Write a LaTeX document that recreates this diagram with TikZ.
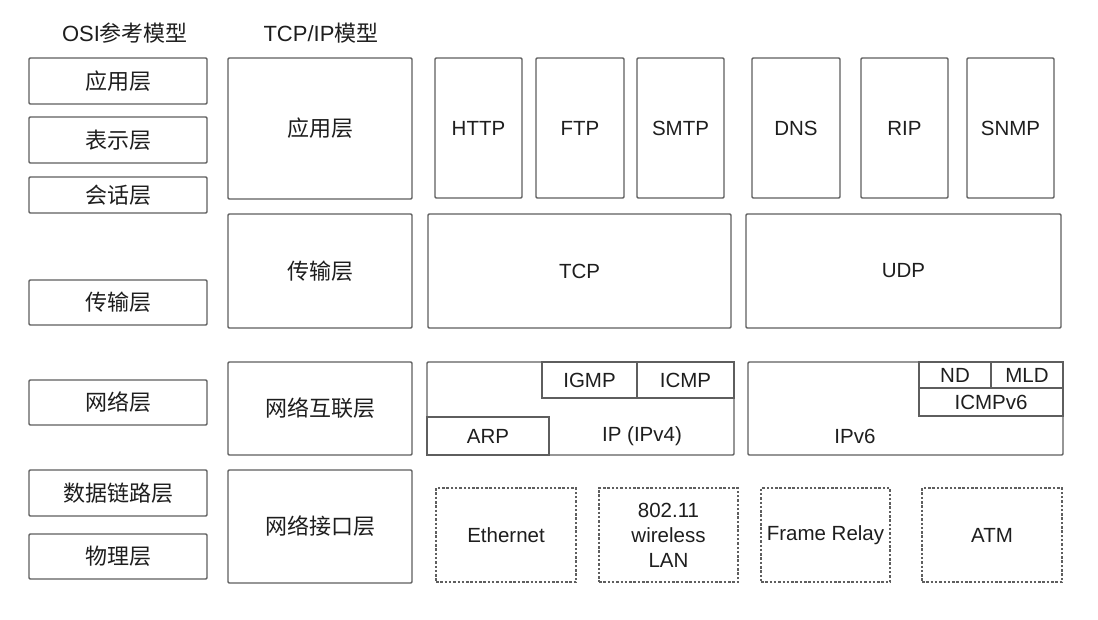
\documentclass[tikz,border=0pt]{standalone}
\usepackage{fontspec}
\setmainfont{Liberation Sans}
\newfontfamily\cjk{Noto Sans CJK SC}
\definecolor{linec}{HTML}{5E5E5E}
\definecolor{txt}{HTML}{1E1E1E}
\begin{document}
\begin{tikzpicture}[x=1pt,y=-1pt,
  box/.style={draw=linec, line width=1.4pt, rounded corners=1.2pt, inner sep=0pt, text=txt,
    font=\fontsize{20.5}{25}\selectfont, align=center},
  cbox/.style={box, font=\cjk\fontsize{22}{26}\selectfont},
  dbox/.style={box, dash pattern=on 2.5pt off 1.8pt, line width=1.2pt, rounded corners=0pt},
  lbl/.style={inner sep=0pt, text=txt, font=\fontsize{20.5}{25}\selectfont},
  hdr/.style={inner sep=0pt, text=txt, font=\fontsize{22}{26}\selectfont}]
\useasboundingbox (0,0) rectangle (1098,620);
\fill[white] (0,0) rectangle (1098,620);
% headers
\node[hdr] (hosi) at (125,33) {OSI{\cjk 参考模型}};
\node[hdr] (htcp) at (321,33) {TCP/IP{\cjk 模型}};
% OSI column
\node[cbox, minimum width=178, minimum height=46] (o7) at (118,81) {应用层};
\node[cbox, minimum width=178, minimum height=46] (o6) at (118,140) {表示层};
\node[cbox, minimum width=178, minimum height=36] (o5) at (118,195) {会话层};
\node[cbox, minimum width=178, minimum height=45] (o4) at (118,302.5) {传输层};
\node[cbox, minimum width=178, minimum height=45] (o3) at (118,402.5) {网络层};
\node[cbox, minimum width=178, minimum height=46] (o2) at (118,493) {数据链路层};
\node[cbox, minimum width=178, minimum height=45] (o1) at (118,556.5) {物理层};
% TCP/IP column
\node[cbox, minimum width=184, minimum height=141] (t4) at (320,128.5) {应用层};
\node[cbox, minimum width=184, minimum height=114] (t3) at (320,271) {传输层};
\node[cbox, minimum width=184, minimum height=93] (t2) at (320,408.5) {网络互联层};
\node[cbox, minimum width=184, minimum height=113] (t1) at (320,526.5) {网络接口层};
% application protocols
\node[box, minimum width=87, minimum height=140] (http) at (478.5,128) {HTTP};
\node[box, minimum width=88, minimum height=140] (ftp) at (580,128) {FTP};
\node[box, minimum width=87, minimum height=140] (smtp) at (680.5,128) {SMTP};
\node[box, minimum width=88, minimum height=140] (dns) at (796,128) {DNS};
\node[box, minimum width=87, minimum height=140] (rip) at (904.5,128) {RIP};
\node[box, minimum width=87, minimum height=140] (snmp) at (1010.5,128) {SNMP};
% transport
\node[box, minimum width=303, minimum height=114] (tcp) at (579.5,271) {TCP};
\node[box, minimum width=315, minimum height=114] (udp) at (903.5,271) {UDP};
% IPv4
\node[box, minimum width=307, minimum height=93] (ip4) at (580.5,408.5) {};
\node[lbl] (ip4l) at (642,436) {IP (IPv4)};
\node[box, rounded corners=0pt, minimum width=95, minimum height=36] (igmp) at (589.5,380) {IGMP};
\node[box, rounded corners=0pt, minimum width=97, minimum height=36] (icmp) at (685.5,380) {ICMP};
\node[box, rounded corners=0pt, minimum width=122, minimum height=38] (arp) at (488,436) {ARP};
% IPv6
\node[box, minimum width=315, minimum height=93] (ip6) at (905.5,408.5) {};
\node[lbl] (ip6l) at (855,436) {IPv6};
\node[box, rounded corners=0pt, minimum width=72, minimum height=26] (nd) at (955,375) {ND};
\node[box, rounded corners=0pt, minimum width=72, minimum height=26] (mld) at (1027,375) {MLD};
\node[box, rounded corners=0pt, minimum width=144, minimum height=28] (icmp6) at (991,402) {ICMPv6};
% link layer
\node[dbox, minimum width=140, minimum height=94] (eth) at (506,535) {Ethernet};
\node[dbox, minimum width=139, minimum height=94] (wlan) at (668.5,535) {802.11\\wireless\\LAN};
\node[dbox, minimum width=129, minimum height=94] (fr) at (825.5,535) {Frame Relay};
\node[dbox, minimum width=140, minimum height=94] (atm) at (992,535) {ATM};
\end{tikzpicture}
\end{document}
